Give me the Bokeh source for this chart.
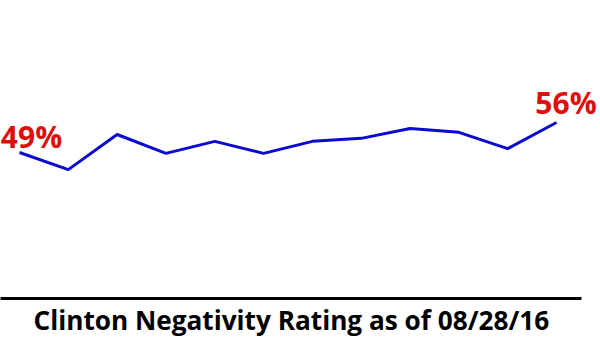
from bokeh.plotting import figure
from bokeh.models import Range1d, Label, FixedTicker, Title
from bokeh.embed import file_html
from bokeh.resources import INLINE

# data
points = list(range(12))
negativity = [49, 45, 53.2, 48.8, 51.6, 48.8, 51.6, 52.3, 54.6, 53.7, 49.9, 56]
end_labels = ["49%", "56%"]
title_text = "Clinton Negativity Rating as of 08/28/16"

x0 = -0.389
px_per_unit = 48.82
p = figure(frame_width=600, frame_height=298, output_backend="svg", toolbar_location=None,
           x_range=Range1d(x0, x0 + 600 / px_per_unit), y_range=Range1d(14.93, 84.47),
           min_border_left=0, min_border_right=0, min_border_top=0, min_border_bottom=0)
p.outline_line_color = None
p.grid.visible = False
p.yaxis.visible = False
p.background_fill_color = "white"
p.border_fill_color = "white"

ax = p.xaxis[0]
ax.ticker = FixedTicker(ticks=[])
ax.bounds = (x0, x0 + 581 / px_per_unit)
ax.major_tick_out = 0
ax.major_tick_in = 0
ax.minor_tick_out = 0
ax.minor_tick_in = 0
ax.major_label_standoff = 0
ax.axis_line_width = 3
ax.axis_line_color = "black"

p.add_layout(Title(text=title_text, align="left", offset=33, standoff=2,
                   text_font="Open Sans", text_font_style="bold", text_font_size="26.2px",
                   text_color="black"), "below")

p.line(points, negativity, line_color="#0a0ad0", line_width=3)

p.add_layout(Label(x=points[0], y=negativity[0], text=end_labels[0], x_offset=12, y_offset=16,
                   text_align="center", text_baseline="alphabetic", text_color="#e00d0d",
                   text_font="Open Sans", text_font_style="bold", text_font_size="30px"))
p.add_layout(Label(x=points[-1], y=negativity[-1], text=end_labels[1], x_offset=9.5, y_offset=20,
                   text_align="center", text_baseline="alphabetic", text_color="#e00d0d",
                   text_font="Open Sans", text_font_style="bold", text_font_size="30px"))

open("out.html", "w").write(file_html(p, INLINE))
